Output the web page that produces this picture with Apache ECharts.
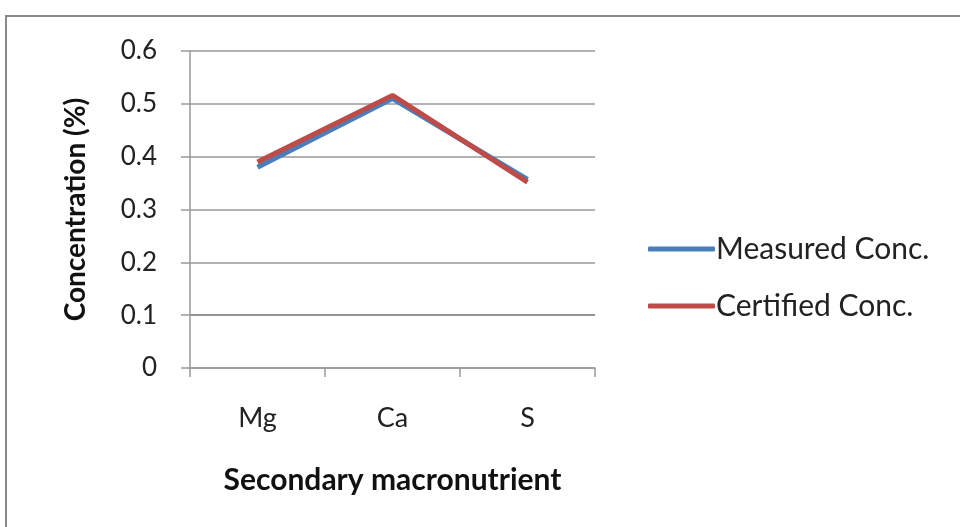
<!DOCTYPE html>
<html><head><meta charset="utf-8">
<script src="https://cdn.jsdelivr.net/npm/echarts@6/dist/echarts.min.js"></script>
<style>
html,body{margin:0;padding:0;background:#fff;overflow:hidden}
#frame{position:absolute;left:5px;top:15px;width:1000px;height:600px;border-left:2px solid #8a8a8a;border-top:2px solid #8a8a8a;box-sizing:border-box}
#c{position:absolute;left:0;top:0;width:960px;height:527px}
</style></head>
<body>
<div id="frame"></div>
<div id="c"></div>
<script>
const categories = ['Mg', 'Ca', 'S'];
const measured = [0.380, 0.510, 0.357];
const certified = [0.390, 0.516, 0.352];
const yTicks = [0, 0.1, 0.2, 0.3, 0.4, 0.5, 0.6];

const chart = echarts.init(document.getElementById('c'));
const font = 'Lato, "Open Sans", sans-serif';
chart.setOption({
  animation: false,
  textStyle: {fontFamily: font},
  grid: {left: 190, top: 51, width: 405, height: 317, containLabel: false},
  legend: {
    orient: 'vertical', left: 643, top: 229, itemWidth: 67, itemHeight: 5, itemGap: 27,
    icon: 'roundRect',
    textStyle: {fontSize: 30, lineHeight: 30, color: '#222', fontFamily: font, padding: [0,0,0,-4]},
    data: ['Measured Conc.', 'Certified Conc.']
  },
  xAxis: {
    type: 'category', data: categories, boundaryGap: true,
    name: 'Secondary macronutrient', nameLocation: 'middle', nameGap: 97,
    nameTextStyle: {fontSize: 30, fontWeight: 'bold', color: '#111', fontFamily: font},
    axisLine: {lineStyle: {color: '#999', width: 1.5}},
    axisTick: {show: true, length: 9, alignWithLabel: false, lineStyle: {color: '#999', width: 1.5}},
    axisLabel: {fontSize: 27, color: '#222', margin: 37}
  },
  yAxis: {
    type: 'value', min: 0, max: 0.6, interval: 0.1,
    name: 'Concentration (%)', nameLocation: 'middle', nameGap: 100, nameRotate: 90,
    nameTextStyle: {fontSize: 28, fontWeight: 'bold', color: '#111', fontFamily: font},
    axisLine: {show: true, lineStyle: {color: '#999', width: 1.5}},
    axisTick: {show: true, length: 9, lineStyle: {color: '#999', width: 1.5}},
    axisLabel: {fontSize: 26, color: '#222', margin: 33,
      formatter: v => { const t = yTicks.find(x => Math.abs(x - v) < 1e-9); return t === undefined ? '' : String(t); }},
    splitLine: {show: true, lineStyle: {color: ['#999', '#6f6f6f', '#999', '#999', '#999', '#999', '#999'], width: 1.5}}
  },
  series: [
    {name: 'Measured Conc.', type: 'line', data: measured, symbol: 'none',
      lineStyle: {color: '#4a7ebb', width: 5}, itemStyle: {color: '#4a7ebb'}},
    {name: 'Certified Conc.', type: 'line', data: certified, symbol: 'none',
      lineStyle: {color: '#be4b48', width: 5}, itemStyle: {color: '#be4b48'}}
  ]
});
</script>
</body></html>
